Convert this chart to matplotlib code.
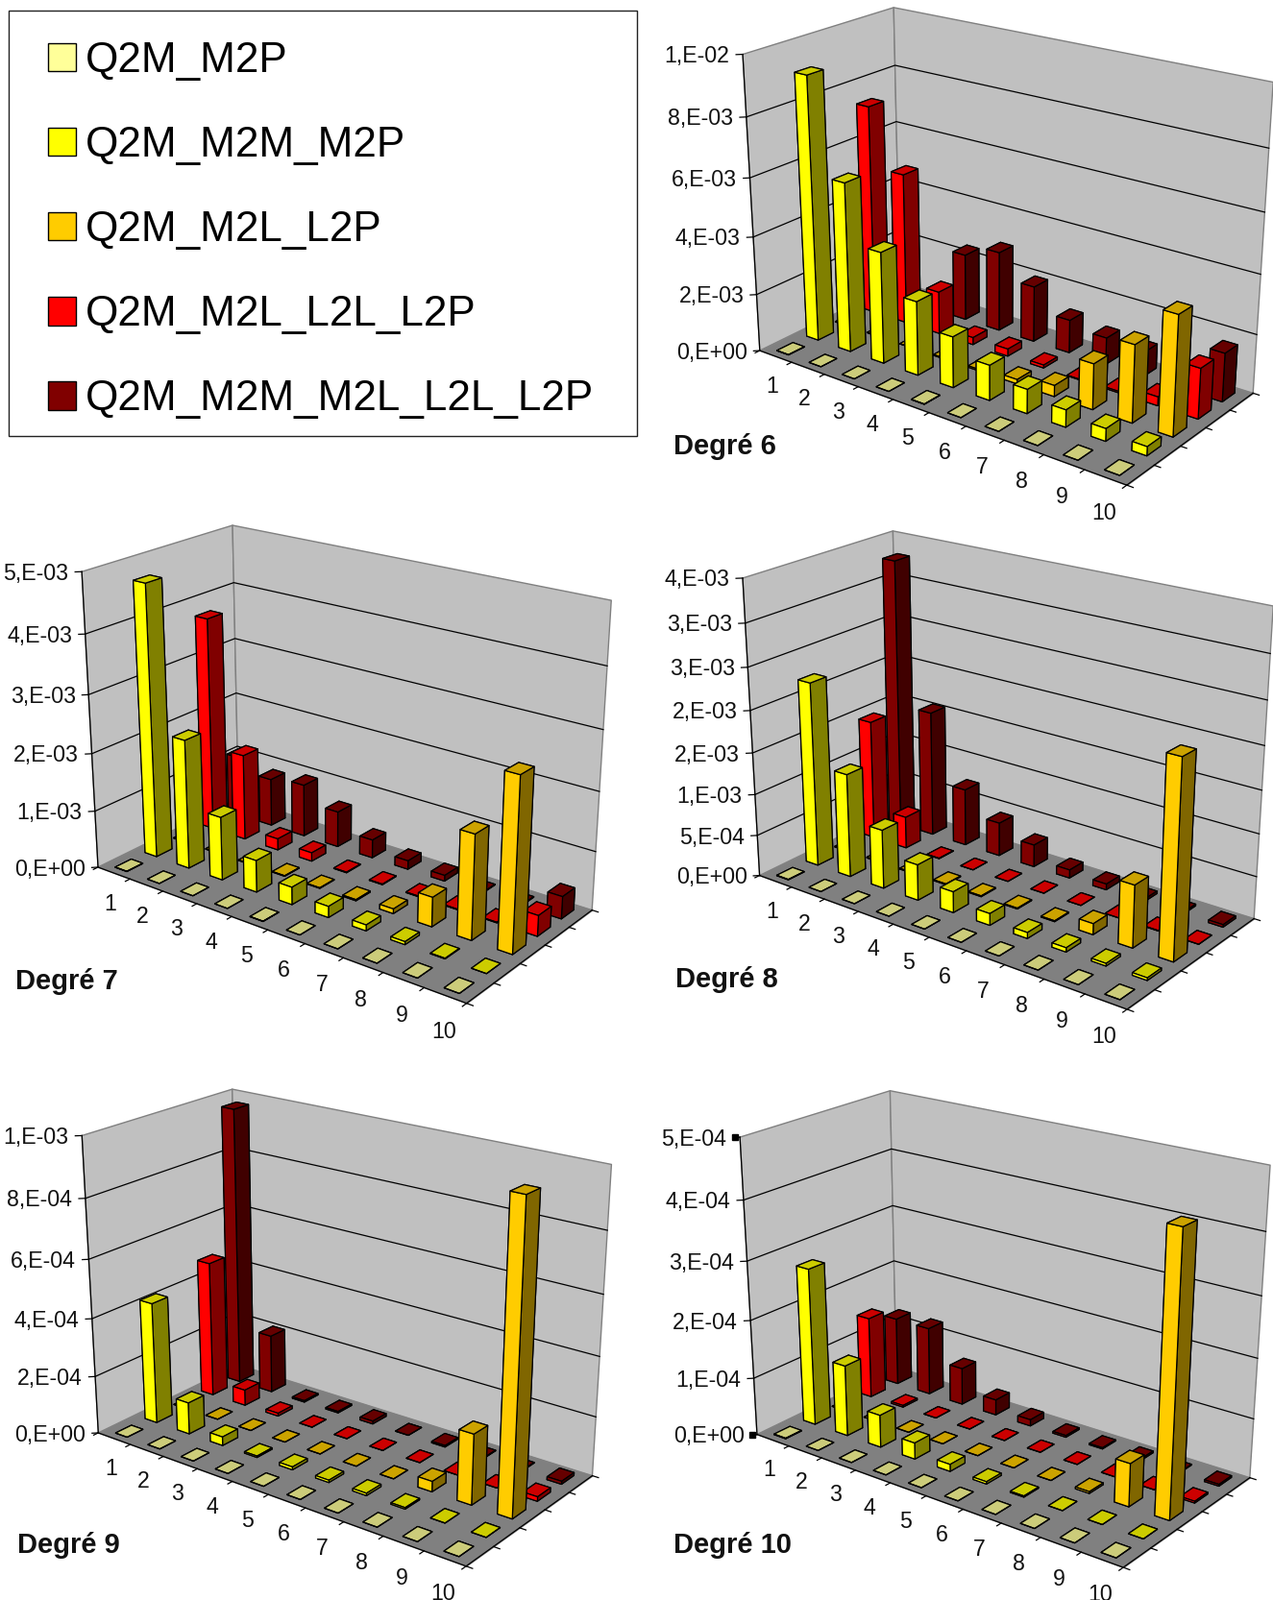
import numpy as np
import matplotlib
matplotlib.use("Agg")
import matplotlib.pyplot as plt
from matplotlib.patches import Patch, Rectangle
from mpl_toolkits.mplot3d import proj3d
from mpl_toolkits.mplot3d.art3d import Poly3DCollection

plt.rcParams["font.family"] = ["Liberation Sans", "DejaVu Sans"]

W, H = 1325, 1666

series_names = ["Q2M_M2P", "Q2M_M2M_M2P", "Q2M_M2L_L2P", "Q2M_M2L_L2L_L2P", "Q2M_M2M_M2L_L2L_L2P"]
series_colors = ["#FFFF99", "#FFFF00", "#FFCC00", "#FF0000", "#800000"]
categories = ["1", "2", "3", "4", "5", "6", "7", "8", "9", "10"]

# one row per series, one value per category
deg6 = [
    [1e-5, 0, 0, 0, 1e-5, 0, 0, 0, 0, 0],
    [9.1e-3, 5.85e-3, 3.85e-3, 2.55e-3, 1.75e-3, 1.2e-3, 0.82e-3, 0.58e-3, 0.42e-3, 0.3e-3],
    [1e-5, 1e-5, 1e-5, 0.03e-3, 0.05e-3, 0.15e-3, 0.38e-3, 1.55e-3, 2.6e-3, 3.97e-3],
    [7.35e-3, 5.3e-3, 1.5e-3, 0.25e-3, 0.25e-3, 0.1e-3, 0.02e-3, 0.05e-3, 0.3e-3, 1.7e-3],
    [0.1e-3, 0.1e-3, 2.35e-3, 2.8e-3, 1.95e-3, 1.15e-3, 0.93e-3, 0.85e-3, 0.6e-3, 1.65e-3],
]
deg7 = [
    [5e-6, 0, 0, 0, 5e-6, 0, 0, 0, 0, 0],
    [4.7e-3, 2.24e-3, 1.1e-3, 0.55e-3, 0.3e-3, 0.19e-3, 0.1e-3, 0.05e-3, 0.01e-3, 0],
    [1e-5, 1e-5, 1e-5, 0.01e-3, 0.01e-3, 0.02e-3, 0.08e-3, 0.5e-3, 1.75e-3, 2.87e-3],
    [3.76e-3, 1.52e-3, 0.2e-3, 0.15e-3, 0.01e-3, 0.01e-3, 0.01e-3, 0.01e-3, 0.01e-3, 0.35e-3],
    [1.08e-3, 0.85e-3, 0.93e-3, 0.63e-3, 0.32e-3, 0.15e-3, 0.1e-3, 0.01e-3, 0.01e-3, 0.38e-3],
]
deg8 = [
    [5e-6, 0, 0, 0, 0, 0, 0, 0, 0, 0],
    [2.22e-3, 1.25e-3, 0.71e-3, 0.43e-3, 0.25e-3, 0.14e-3, 0.07e-3, 0.05e-3, 0.03e-3, 0.03e-3],
    [1e-5, 1e-5, 1e-5, 0.01e-3, 0.01e-3, 0.01e-3, 0.01e-3, 0.13e-3, 0.73e-3, 2.27e-3],
    [1.46e-3, 0.39e-3, 0.005e-3, 0, 0, 0, 0, 0, 0.005e-3, 0],
    [3.28e-3, 1.54e-3, 0.7e-3, 0.41e-3, 0.27e-3, 0.1e-3, 0.07e-3, 0.03e-3, 0.02e-3, 0.03e-3],
]
deg9 = [
    [0, 0, 0, 0, 0, 0, 0, 0, 0, 0],
    [0.42e-3, 0.11e-3, 0.03e-3, 0.005e-3, 0.01e-3, 0.008e-3, 0.008e-3, 0.005e-3, 0, 0],
    [0, 0, 0, 0, 0, 0, 0, 0.035e-3, 0.235e-3, 1.0e-3],
    [0.475e-3, 0.055e-3, 0.01e-3, 0, 0, 0, 0, 0, 0, 0.015e-3],
    [0.97e-3, 0.205e-3, 0.005e-3, 0.005e-3, 0.01e-3, 0, 0.005e-3, 0.002e-3, 0.002e-3, 0.01e-3],
]
deg10 = [
    [1e-6, 0, 0, 0, 0, 0, 0, 0, 0, 0],
    [2.72e-4, 1.23e-4, 0.56e-4, 0.28e-4, 0.12e-4, 0.04e-4, 0.02e-4, 0, 0, 0],
    [0, 0, 0, 0, 0, 0, 0, 0.03e-4, 0.72e-4, 4.55e-4],
    [1.43e-4, 0.03e-4, 0, 0, 0, 0, 0, 0, 0, 0.03e-4],
    [1.2e-4, 1.2e-4, 0.65e-4, 0.27e-4, 0.11e-4, 0.03e-4, 0.02e-4, 0.03e-4, 0.01e-4, 0.03e-4],
]

ticks6 = [0, 2e-3, 4e-3, 6e-3, 8e-3, 1e-2]
ticks7 = [0, 1e-3, 2e-3, 3e-3, 4e-3, 5e-3]
ticks8 = [0, 5e-4, 1e-3, 1.5e-3, 2e-3, 2.5e-3, 3e-3, 3.5e-3]
ticks9 = [0, 2e-4, 4e-4, 6e-4, 8e-4, 1e-3]
ticks10 = [0, 1e-4, 2e-4, 3e-4, 4e-4, 5e-4]

labels6 = ["0,E+00", "2,E-03", "4,E-03", "6,E-03", "8,E-03", "1,E-02"]
labels7 = ["0,E+00", "1,E-03", "2,E-03", "3,E-03", "4,E-03", "5,E-03"]
labels8 = ["0,E+00", "5,E-04", "1,E-03", "2,E-03", "2,E-03", "3,E-03", "3,E-03", "4,E-03"]
labels9 = ["0,E+00", "2,E-04", "4,E-04", "6,E-04", "8,E-04", "1,E-03"]
labels10 = ["0,E+00", "1,E-04", "2,E-04", "3,E-04", "4,E-04", "5,E-04"]

# where the box corners of each chart sit in the image (pixels, y down)
# order: top-left, top-back, top-right, floor-left, floor-back, floor-right, floor-front
box6 = [(772.9, 57.4), (930.5, 7.0), (1325, 85.6), (790.6, 363.5), (936.7, 295.1), (1304, 408.5), (1173.2, 506)]
box7 = [(85.2, 595.6), (242, 546.5), (636.2, 625.3), (101.9, 902), (248.2, 832.1), (616.2, 946.8), (485.7, 1045.4)]
box8 = [(772.9, 602.7), (929.7, 551.8), (1325, 631.4), (790.6, 909.5), (935.9, 842.9), (1305.3, 954.7), (1173.2, 1052.5)]
box9 = [(85.2, 1183.6), (242, 1132.9), (636.2, 1212.6), (101.9, 1489.7), (248.2, 1423.4), (616.2, 1535.2), (485.7, 1632.1)]
box10 = [(770, 1184.7), (926.8, 1134.7), (1321.8, 1213.7), (788.1, 1491.5), (932.6, 1425.8), (1301.1, 1536.6), (1169.1, 1633.8)]

BOX_3D = [(0, 0, 1), (0, 5, 1), (10, 5, 1), (0, 0, 0), (0, 5, 0), (10, 5, 0), (10, 0, 0)]
BAR_DX, BAR_DY = 0.36, 0.53


def camera_matrix(box, ymax):
    # perspective camera that puts the box corners on the picture
    rows = []
    for (X, Y, Z), (u, v) in zip(BOX_3D, box):
        u, v = u / 1000, (H - v) / 1000
        rows.append([X, Y, Z, 1, 0, 0, 0, 0, -u * X, -u * Y, -u * Z, -u])
        rows.append([0, 0, 0, 0, X, Y, Z, 1, -v * X, -v * Y, -v * Z, -v])
    P = np.linalg.svd(np.array(rows))[2][-1].reshape(3, 4)
    P = P / P[2, 3]
    P[:2] *= 1000
    P[:, 2] /= ymax
    depth = P[2] - np.array([0, 0, 0, 0.5])
    return np.vstack([P[0], P[1], depth, P[2]])


def shade(color, k):
    return tuple(c * k for c in matplotlib.colors.to_rgb(color))


def draw_chart(fig, values, ticks, labels, box, title, title_xy):
    S = H
    ax = fig.add_axes([(W - S) / 2 / W, 0, S / W, 1], projection="3d", computed_zorder=False)
    ax.set_axis_off()
    ax.patch.set_visible(False)
    ax.set_proj_type("ortho")  # only to stop Line3D clipping, get_proj below replaces the view
    ax.set_xticks([])
    ax.set_yticks([])
    ax.set_zticks([])
    M = camera_matrix(box, ticks[-1])

    def get_proj():
        ax.viewLim.intervalx = ((W - S) / 2, (W + S) / 2)
        ax.viewLim.intervaly = (0, H)
        return M
    ax.get_proj = get_proj

    def label(x, y, z, text, **kw):
        u, v, _ = proj3d.proj_transform(x, y, z, M)
        fig.text(u / W, (v - 1.5) / H, text, va="center", fontsize=16.7, color="#111111", **kw)

    top = ticks[-1]
    walls = Poly3DCollection(
        [[(0, 0, 0), (0, 5, 0), (0, 5, top), (0, 0, top)],
         [(0, 5, 0), (10, 5, 0), (10, 5, top), (0, 5, top)]],
        facecolors="#C0C0C0", edgecolors="#808080", linewidths=1.0)
    walls.set_zorder(1)
    ax.add_collection3d(walls)
    floor = Poly3DCollection([[(0, 0, 0), (10, 0, 0), (10, 5, 0), (0, 5, 0)]],
                             facecolors="#808080", edgecolors="#808080", linewidths=0.8)
    floor.set_zorder(3)
    ax.add_collection3d(floor)

    for t in ticks[1:-1]:
        ax.plot([0, 0, 10], [0, 5, 5], [t, t, t], color="black", lw=0.9, zorder=2)
    ax.plot([0, 0], [0, 0], [0, top], color="black", lw=0.9, zorder=4)
    ax.plot([0, 10, 10], [0, 0, 5], [0, 0, 0], color="black", lw=0.9, zorder=4)

    # axis ticks and labels
    for t, lab in zip(ticks, labels):
        ax.plot([0, -0.1], [0, -0.1], [t, t], color="black", lw=0.9, zorder=4)
        label(-0.2, -0.2, t, lab, ha="right")
    for i in range(11):
        ax.plot([i, i], [0, -0.15], [0, 0], color="black", lw=0.9, zorder=4)
    for j in range(6):
        ax.plot([10, 10.15], [j, j], [0, 0], color="black", lw=0.9, zorder=4)
    for i, lab in enumerate(categories):
        label(1.46 + 0.972 * i, -1.12, 0, lab, ha="center")

    # back to front so near bars cover far ones
    z = 10
    for i in range(len(categories)):
        for j in reversed(range(len(series_names))):
            c = series_colors[j]
            # faces: -z, +z, -y, +y, -x, +x
            faces = [shade(c, 0.8), shade(c, 0.8), shade(c, 1), shade(c, 1), shade(c, 0.5), shade(c, 0.5)]
            bar = ax.bar3d(i + 0.5 - BAR_DX / 2, j + 0.5 - BAR_DY / 2, 0, BAR_DX, BAR_DY, values[j][i],
                           color=faces, shade=False, edgecolor="black", linewidth=0.9)
            bar.set_zorder(z)
            z += 1

    fig.text(title_xy[0] / W, 1 - title_xy[1] / H, title, fontsize=21, fontweight="bold",
             ha="left", va="center", color="#111111")
    return ax


fig = plt.figure(figsize=(W / 100, H / 100), dpi=100, facecolor="white")

draw_chart(fig, deg6, ticks6, labels6, box6, "Degré 6", (701, 465))
draw_chart(fig, deg7, ticks7, labels7, box7, "Degré 7", (16, 1022))
draw_chart(fig, deg8, ticks8, labels8, box8, "Degré 8", (703, 1020))
draw_chart(fig, deg9, ticks9, labels9, box9, "Degré 9", (18, 1609))
ax10 = draw_chart(fig, deg10, ticks10, labels10, box10, "Degré 10", (701, 1609))

# the two selection handles left on the last chart
ax10.plot([-0.08, -0.08], [-0.08, -0.08], [ticks10[-1], 0], ls="none", marker="s", ms=4,
          color="black", zorder=999)

# legend box, drawn apart so its padding can differ left and top
fig.add_artist(Rectangle((8.5 / W, 1 - 453.7 / H), 654.5 / W, 443.1 / H, transform=fig.transFigure,
                         facecolor="white", edgecolor="#222222", linewidth=1.0))
handles = [Patch(facecolor=c, edgecolor="black", linewidth=1.0) for c in series_colors]
fig.legend(handles, series_names, loc="upper left", bbox_to_anchor=(50 / W, 1 - 43 / H),
           borderaxespad=0, fontsize=31.7, frameon=False, handlelength=0.65, handleheight=0.65,
           handletextpad=0.23, labelspacing=1.07, borderpad=0)

fig.savefig("out.png", dpi=100)
